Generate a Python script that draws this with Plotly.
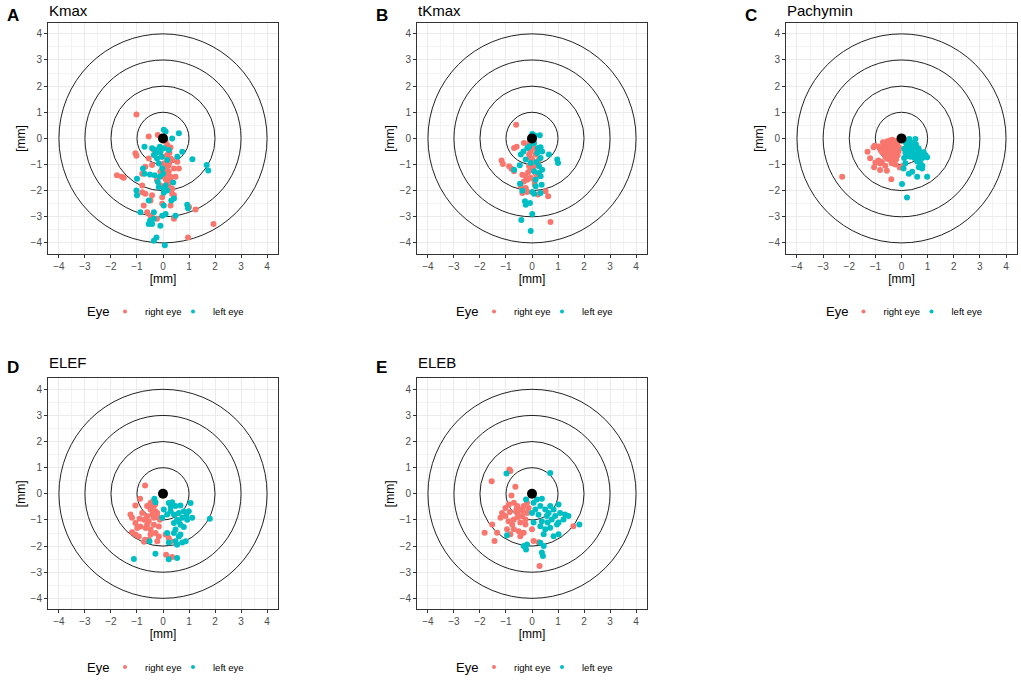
import plotly.graph_objects as go

# ---- data: (x, y) positions in mm ----
kmax_right = [(-1.02, 0.91), (-0.55, 0.07), (-0.2, 0.13), (0.16, -0.25), (0.29, -0.35), (-1.06, -0.57),
              (-1.02, -0.66), (-0.55, -0.77), (0.16, -0.64), (0.35, -0.83), (0.61, -1.15), (-1.77, -1.41),
              (-1.58, -1.47), (-1.51, -1.51), (-0.8, -1.35), (-0.68, -1.09), (-0.42, -1.02), (0.03, -0.96),
              (0.16, -1.09), (0.22, -1.28), (0.29, -1.47), (0.1, -1.54), (0.42, -1.15), (0.55, -0.89),
              (-0.1, -1.8), (0.22, -1.8), (-0.8, -2.06), (-0.68, -2.12), (-0.42, -2.18), (-0.48, -2.38),
              (0.42, -2.18), (0.35, -2.12), (-0.03, -2.25), (-0.03, -2.5), (0.29, -2.57), (-0.74, -2.57),
              (-0.61, -2.83), (-0.48, -2.96), (-0.23, -3.08), (0.42, -3.08), (1.25, -2.72), (1.0, -2.63),
              (1.94, -3.28), (0.96, -3.79), (-0.1, -1.28), (0.1, -1.35), (0.03, -1.47), (0.22, -1.02),
              (0.29, -0.77), (-0.03, -0.7), (-0.35, -0.44), (0.48, -1.47), (0.35, -1.93), (0.16, -1.67),
              (-0.23, -1.6), (-0.8, -1.8), (0.1, -0.1), (0.25, -0.55), (0.05, -1.2), (0.3, -1.65)]
kmax_left = [(0.03, 0.33), (0.1, 0.26), (0.61, 0.2), (0.35, 0.0), (-0.71, -0.32), (-0.42, -0.38),
             (-0.29, -0.44), (-0.12, -0.32), (-0.1, -0.51), (-0.35, -0.64), (-0.23, -0.77), (0.74, -0.51),
             (0.55, -0.7), (1.13, -0.8), (-0.16, -0.96), (-0.03, -1.15), (-0.77, -1.15), (-0.71, -1.35),
             (-1.0, -1.54), (-0.5, -1.38), (-0.12, -1.47), (1.68, -1.02), (1.74, -1.23), (-0.2, -1.67),
             (-0.16, -1.86), (0.03, -1.93), (0.39, -1.69), (-1.02, -1.99), (-1.0, -2.18), (-0.55, -2.38),
             (0.03, -2.08), (0.16, -1.99), (0.32, -2.38), (0.42, -2.3), (0.93, -2.54), (0.96, -2.67),
             (-0.87, -2.83), (-0.35, -2.83), (-0.03, -2.96), (0.1, -2.89), (0.48, -2.96), (-0.5, -3.15),
             (-0.42, -3.28), (-0.55, -3.28), (-0.35, -3.08), (-0.1, -3.34), (-0.25, -3.79), (-0.35, -3.92),
             (0.07, -4.09), (0.03, -2.57), (0.1, -1.8), (-0.32, -1.41), (0.16, -0.83), (0.03, -0.38),
             (0.22, -0.44), (-0.25, -0.55), (-0.05, -0.7), (0.0, -1.35)]

tkmax_right = [(-0.61, 0.52), (-0.69, -0.37), (-0.59, -0.32), (-0.31, -0.18), (-0.11, -0.24), (0.08, -0.37),
               (-0.05, -0.5), (0.14, -0.62), (-0.05, -0.75), (0.08, -0.94), (0.27, -0.81), (-1.17, -0.85),
               (-1.12, -0.98), (-0.88, -1.07), (-0.79, -1.16), (-0.69, -1.26), (-0.37, -1.39), (-0.24, -1.45),
               (-0.05, -1.51), (0.08, -1.58), (-0.31, -1.65), (0.14, -1.32), (-0.05, -1.2), (-0.11, -1.07),
               (-0.43, -1.83), (-0.24, -1.9), (-0.37, -2.09), (-0.18, -2.05), (0.52, -2.02), (0.62, -2.21),
               (0.23, -2.15), (0.71, -3.2), (0.08, -1.07), (0.01, -0.82), (-0.11, -0.62), (-0.08, -0.11),
               (0.18, -1.39), (-0.18, -1.58), (0.05, 0.1), (0.2, -0.5), (-0.15, -1.3), (0.1, -1.75)]
tkmax_left = [(0.01, 0.17), (0.1, 0.11), (0.33, -0.34), (0.65, -0.62), (0.97, -0.81), (1.0, -0.94),
              (-0.43, -0.62), (-0.33, -0.5), (-0.18, -0.37), (0.08, -0.18), (0.23, -0.37), (0.2, -0.56),
              (0.39, -0.5), (0.33, -0.75), (-0.47, -1.03), (-0.69, -1.2), (0.27, -1.07), (0.39, -1.2),
              (0.33, -1.45), (0.14, -1.58), (0.37, -1.77), (-0.46, -1.74), (-0.37, -2.0), (0.01, -2.05),
              (0.08, -2.12), (0.33, -2.09), (-0.27, -2.41), (-0.24, -2.54), (-0.08, -2.47), (0.01, -2.89),
              (-0.41, -3.12), (-0.05, -3.54), (0.08, -1.26), (-0.05, -0.94), (-0.24, -0.81), (0.14, -1.83),
              (0.27, -1.32), (0.3, 0.12), (-0.1, -0.3), (0.18, -0.9)]

pachy_right = [(-0.55, -0.12), (-0.45, -0.08), (-0.35, -0.05), (-0.25, -0.1), (-0.15, -0.18), (-0.65, -0.2),
               (-0.5, -0.22), (-0.4, -0.2), (-0.3, -0.22), (-0.2, -0.28), (-0.1, -0.35), (-0.7, -0.32),
               (-0.6, -0.35), (-0.5, -0.35), (-0.4, -0.32), (-0.3, -0.38), (-0.2, -0.45), (-0.12, -0.5),
               (-0.65, -0.45), (-0.55, -0.5), (-0.45, -0.48), (-0.35, -0.52), (-0.25, -0.58), (-0.15, -0.65),
               (-0.6, -0.6), (-0.5, -0.65), (-0.4, -0.68), (-0.3, -0.72), (-0.2, -0.8), (-0.55, -0.78),
               (-0.45, -0.82), (-0.35, -0.88), (-0.62, -0.7), (-0.72, -0.55), (-0.8, -0.45), (-1.07, -0.34),
               (-0.88, -0.31), (-0.71, -0.15), (-0.88, -0.85), (-0.81, -0.96), (-1.0, -0.92), (-1.2, -0.76),
               (-1.05, -1.1), (-0.82, -1.21), (-0.56, -1.24), (-0.62, -1.05), (-0.37, -0.95), (-0.24, -1.0),
               (-0.07, -1.11), (0.06, -1.05), (-0.39, -1.56), (-2.27, -1.47), (-1.3, -0.51), (-1.03, -0.28),
               (-0.94, -0.92), (-0.75, -0.9)]
pachy_left = [(0.3, -0.02), (0.53, -0.02), (0.15, -0.15), (0.25, -0.2), (0.4, -0.18), (0.55, -0.22),
              (0.2, -0.3), (0.35, -0.32), (0.5, -0.35), (0.65, -0.38), (0.1, -0.4), (0.25, -0.42),
              (0.4, -0.45), (0.55, -0.48), (0.7, -0.5), (0.85, -0.53), (0.15, -0.55), (0.3, -0.58),
              (0.45, -0.6), (0.6, -0.62), (0.75, -0.6), (0.92, -0.65), (0.98, -0.72), (0.2, -0.68),
              (0.35, -0.7), (0.5, -0.75), (0.65, -0.78), (0.8, -0.75), (0.6, -0.88), (0.72, -0.95),
              (0.8, -1.05), (0.66, -1.1), (0.79, -1.15), (0.08, -1.15), (0.28, -1.35), (0.41, -1.28),
              (0.6, -1.47), (0.98, -1.47), (0.02, -1.75), (0.21, -2.26), (0.1, -0.75), (0.15, -0.95)]

elef_right = [(-0.69, 0.32), (-0.88, -0.19), (-1.06, -0.45), (-1.25, -0.79), (-1.19, -0.92), (-1.06, -1.12),
              (-0.99, -1.31), (-1.19, -1.47), (-1.06, -1.56), (-0.93, -1.63), (-0.69, -1.76), (-0.73, -1.83),
              (-0.61, -0.47), (-0.48, -0.35), (-0.42, -0.54), (-0.29, -0.67), (-0.22, -0.86), (-0.12, -0.99),
              (-0.35, -0.92), (-0.61, -0.86), (-0.8, -0.73), (-0.73, -0.99), (-0.61, -1.18), (-0.48, -1.37),
              (-0.29, -1.5), (-0.16, -1.63), (-0.48, -1.56), (-0.87, -1.25), (0.1, -1.56), (0.22, -1.69),
              (0.31, -1.82), (0.12, -2.33), (0.35, -2.42), (-0.48, -0.6), (-0.35, -0.47), (-0.22, -0.73),
              (-0.42, -0.8), (-0.55, -1.05), (-0.35, -1.18), (-0.16, -1.25), (-0.67, -1.31), (-0.22, -1.82),
              (-0.55, -1.76), (-0.4, -0.3), (-0.3, -0.4), (-0.9, -0.95)]
elef_left = [(-0.33, -0.19), (-0.29, -0.32), (0.03, -0.6), (0.22, -0.35), (0.35, -0.32), (0.48, -0.47),
             (0.67, -0.45), (0.8, -0.67), (0.99, -0.67), (1.06, -0.35), (1.12, -0.92), (0.93, -0.99),
             (0.74, -0.92), (0.54, -0.99), (0.67, -1.18), (0.8, -1.27), (0.42, -0.79), (0.16, -0.79),
             (-0.03, -0.92), (1.8, -0.95), (0.16, -1.5), (0.42, -1.5), (0.61, -1.63), (0.48, -1.82),
             (0.74, -1.86), (0.87, -1.82), (0.54, -1.95), (0.22, -1.86), (-0.52, -1.82), (-0.29, -2.29),
             (-1.12, -2.49), (0.22, -2.5), (0.54, -2.46), (0.42, -1.12), (0.29, -0.67), (0.61, -0.73),
             (0.48, -1.37), (0.67, -1.56), (0.3, -0.5), (0.6, -1.05), (0.9, -0.8)]

eleb_right = [(-0.87, 0.93), (-0.83, 0.87), (-1.55, 0.48), (-0.64, 0.27), (-0.79, -0.06), (-0.89, -0.41),
              (-1.02, -0.54), (-1.15, -0.73), (-1.02, -0.85), (-1.21, -0.92), (-1.53, -1.17), (-1.34, -1.49),
              (-1.82, -1.49), (-1.44, -1.81), (-0.96, -1.36), (-0.83, -1.55), (-0.7, -1.36), (-0.51, -1.43),
              (-0.45, -1.62), (-0.32, -1.49), (0.0, -1.36), (0.06, -1.81), (0.25, -1.85), (0.29, -2.76),
              (1.59, -1.24), (-0.7, -0.34), (-0.57, -0.47), (-0.45, -0.6), (-0.32, -0.47), (-0.19, -0.34),
              (-0.57, -0.73), (-0.38, -0.85), (-0.25, -0.98), (-0.45, -1.1), (-0.7, -0.98), (-0.76, -1.17),
              (-0.25, -1.17), (-0.19, -0.73), (-0.13, -0.54), (-0.6, -0.6), (-0.85, -0.7), (-0.35, -0.65),
              (-0.55, -0.9), (-0.9, -1.05)]
eleb_left = [(-0.98, 0.78), (0.7, 0.8), (-0.23, -0.22), (0.06, -0.34), (0.19, -0.22), (0.38, -0.19),
             (0.32, -0.47), (0.51, -0.6), (0.7, -0.47), (0.83, -0.6), (1.02, -0.41), (1.08, -0.73),
             (1.27, -0.79), (1.4, -0.85), (1.21, -0.98), (1.02, -1.1), (0.76, -0.98), (0.57, -0.85),
             (0.32, -1.24), (0.51, -1.36), (0.7, -1.3), (0.83, -1.62), (1.02, -1.55), (1.82, -1.17),
             (0.06, -1.1), (0.45, -1.55), (0.32, -1.87), (0.45, -2.0), (-0.32, -2.0), (-0.23, -2.13),
             (-0.19, -1.94), (0.38, -2.25), (0.42, -2.38), (-0.96, -1.59), (0.13, -0.6), (0.25, -0.8),
             (0.64, -0.73), (0.89, -0.85), (0.96, -1.17), (0.38, -1.05), (0.0, -0.73), (0.6, -1.1)]

letters = ["A", "B", "C", "D", "E"]
titles = ["Kmax", "tKmax", "Pachymin", "ELEF", "ELEB"]
right_sets = [kmax_right, tkmax_right, pachy_right, elef_right, eleb_right]
left_sets = [kmax_left, tkmax_left, pachy_left, elef_left, eleb_left]
rings = [1, 2, 3, 4]
ticks = [-4, -3, -2, -1, 0, 1, 2, 3, 4]

RED = "#F8766D"
TEAL = "#00BFC4"
W, H = 1021, 682

# panel boxes in pixels: (left, right, top, bottom)
boxes = [(48, 278, 23, 255), (417, 647, 23, 255), (786, 1017, 23, 255),
         (48, 278, 380, 612), (417, 647, 380, 612)]
legend_y = [313, 313, 313, 670, 670]
rng = [-4.42, 4.42]

fig = go.Figure()
layout = {}
shapes = []
annotations = []

for i in range(5):
    n = i + 1
    sfx = "" if n == 1 else str(n)
    xa, ya = "x" + sfx, "y" + sfx
    l, r, t, b = boxes[i]
    c = (l + r) / 2

    # one small legend per key entry so the spacing can follow the ggplot guide
    for k, (name, pts, col, dx) in enumerate([("right eye", right_sets[i], RED, -58),
                                              ("left eye", left_sets[i], TEAL, 10)]):
        li = 2 * i + k + 1
        leg = "legend" if li == 1 else "legend" + str(li)
        fig.add_trace(go.Scatter(
            x=[p[0] for p in pts], y=[p[1] for p in pts],
            mode="markers", name=name, xaxis=xa, yaxis=ya, showlegend=False,
            marker=dict(color=col, size=6, line=dict(width=0)),
        ))
        fig.add_trace(go.Scatter(
            x=[None], y=[None], mode="markers", name=name, xaxis=xa, yaxis=ya, legend=leg,
            marker=dict(color=col, size=4, line=dict(width=0)),
        ))
        layout[leg] = dict(
            orientation="h", x=(c + dx) / W, xanchor="left", y=1 - legend_y[i] / H, yanchor="middle",
            font=dict(size=9.5, color="black"), bgcolor="rgba(0,0,0,0)", itemwidth=30,
        )
    fig.add_trace(go.Scatter(x=[0], y=[0], mode="markers", xaxis=xa, yaxis=ya,
                             marker=dict(color="black", size=10), showlegend=False))

    axis_common = dict(
        range=rng, tickvals=ticks, ticks="outside", ticklen=3, tickcolor="#333333",
        tickfont=dict(size=10, color="#4D4D4D"), showgrid=True, gridcolor="#EBEBEB", gridwidth=1,
        minor=dict(dtick=0.5, tick0=0.5, showgrid=True, gridcolor="#F3F3F3", gridwidth=0.6),
        showline=True, mirror=True, linecolor="#333333", linewidth=1, zeroline=False,
        title=dict(text="[mm]", font=dict(size=12, color="black"), standoff=2),
    )
    layout["xaxis" + sfx] = dict(axis_common, domain=[l / W, r / W], anchor=ya)
    layout["yaxis" + sfx] = dict(axis_common, domain=[1 - b / H, 1 - t / H], anchor=xa)

    for rad in rings:
        shapes.append(dict(type="circle", xref=xa, yref=ya, x0=-rad, y0=-rad, x1=rad, y1=rad,
                           line=dict(color="#222222", width=1), layer="between"))

    annotations.append(dict(text="Eye", xref="paper", yref="paper", x=(c - 65) / W,
                            y=1 - legend_y[i] / H, xanchor="center", yanchor="middle",
                            showarrow=False, font=dict(size=13, color="black")))

    ty = 16 if i < 3 else 369
    annotations.append(dict(text="<b>" + letters[i] + "</b>", xref="paper", yref="paper",
                            x=(l - 43) / W, y=1 - ty / H, xanchor="left", yanchor="middle",
                            showarrow=False, font=dict(size=17, color="black")))
    annotations.append(dict(text=titles[i], xref="paper", yref="paper",
                            x=(l - 1) / W, y=1 - (ty - 5) / H, xanchor="left", yanchor="middle",
                            showarrow=False, font=dict(size=15, color="black")))

fig.update_layout(
    width=W, height=H, margin=dict(l=0, r=0, t=0, b=0),
    paper_bgcolor="white", plot_bgcolor="white",
    font=dict(family="Liberation Sans, Arial, sans-serif"),
    shapes=shapes, annotations=annotations, **layout,
)

# the page body has a default 8px margin; drop it so the figure fills the window
fig.write_html("out.html", config={"displayModeBar": False},
               post_script="document.body.style.margin='0px';")
